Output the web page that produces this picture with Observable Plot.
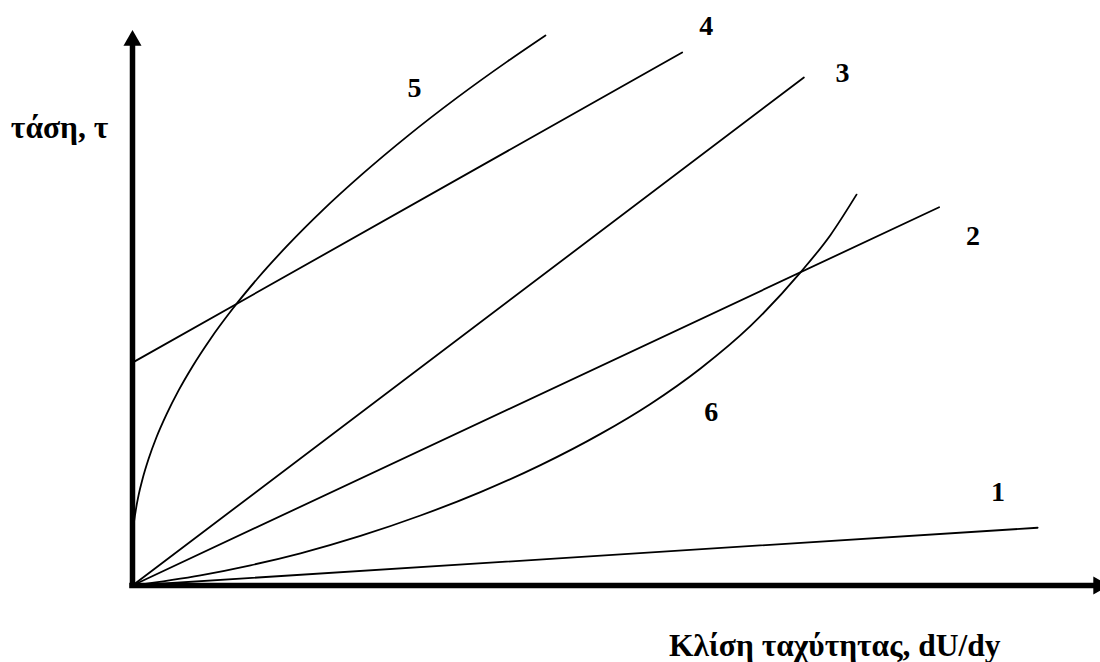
<!DOCTYPE html>
<html><head><meta charset="utf-8">
<script src="https://cdn.jsdelivr.net/npm/d3@7"></script>
<script src="https://cdn.jsdelivr.net/npm/@observablehq/plot@0.6"></script>
<style>html,body{margin:0;padding:0;background:#fff;}</style>
</head><body><div id="chart"></div>
<script>
// Curves as [shear rate, stress] pairs (arbitrary units, 0–100)
const curve1 = [[0, 0], [93.7, 10.6]];
const curve2 = [[0, 0], [83.5, 69.4]];
const curve3 = [[0, 0], [69.5, 93.2]];
const curve4 = [[0, 40.9], [56.9, 97.8]];
const curve5 = [[0, 6.79], [0.10, 10.50], [0.31, 13.47], [0.62, 16.50], [1.04, 19.56], [1.66, 23.21], [2.48, 27.21], [3.52, 31.41], [4.76, 35.76], [6.21, 40.20], [8.07, 45.25], [10.35, 50.73], [12.94, 56.33], [16.05, 62.40], [19.67, 68.83], [23.81, 75.52], [28.47, 82.46], [33.64, 89.56], [38.82, 96.17], [42.75, 100.92]];
const curve6 = [[0, 0], [7.04, 1.87], [12.22, 3.71], [17.39, 5.91], [23.60, 9.10], [29.81, 12.84], [36.02, 17.14], [42.24, 22.09], [48.45, 27.82], [53.62, 33.32], [58.80, 39.83], [63.98, 47.63], [69.15, 57.45], [72.26, 64.33], [74.95, 71.72]];

const labelText = ["1", "2", "3", "4", "5", "6"];
const labelX = [89.6, 87.0, 73.5, 59.4, 29.2, 59.9];
const labelY = [17.2, 64.2, 94.1, 102.6, 91.2, 31.9];

const yTitle = "τάση, τ";
const xTitle = "Κλίση ταχύτητας, dU/dy";
const axisMax = 100;

const curves = [curve1, curve2, curve3, curve4, curve5, curve6];
const labels = labelText.map((t, i) => ({t, x: labelX[i], y: labelY[i]}));
const font = "'Liberation Serif', 'Times New Roman', serif";

const chart = Plot.plot({
  width: 1100,
  height: 662,
  marginLeft: 132,
  marginRight: 2,
  marginTop: 40,
  marginBottom: 77,
  x: {domain: [0, axisMax], axis: null},
  y: {domain: [0, axisMax], axis: null},
  style: {background: "white", fontFamily: font},
  marks: [
    ...curves.map(c => Plot.line(c, {x: d => d[0], y: d => d[1], stroke: "black", strokeWidth: 1.8, curve: c.length > 2 ? "monotone-x" : "linear"})),
    Plot.ruleX([0], {y1: 0, y2: axisMax, stroke: "black", strokeWidth: 5.5, strokeLinecap: "square"}),
    Plot.ruleY([0], {x1: 0, x2: axisMax, stroke: "black", strokeWidth: 5.5, strokeLinecap: "square"}),
    Plot.dot([{x: 0, y: axisMax}], {x: "x", y: "y", symbol: "triangle", r: 6.7, fill: "black"}),
    Plot.dot([{x: axisMax, y: 0}], {x: "x", y: "y", symbol: "triangle", r: 6.7, fill: "black", rotate: 90}),
    Plot.text(labels, {x: "x", y: "y", text: "t", fontSize: 28, fontWeight: "bold", fill: "black", fontFamily: font}),
    Plot.text([yTitle], {x: -7.55, y: 83.9, text: d => d, fontSize: 31.5, fontWeight: "bold", fill: "black", fontFamily: font}),
    Plot.text([xTitle], {x: 72.7, y: -11.0, text: d => d, fontSize: 31.5, fontWeight: "bold", fill: "black", fontFamily: font})
  ]
});
document.getElementById("chart").appendChild(chart);
</script>
</body></html>
